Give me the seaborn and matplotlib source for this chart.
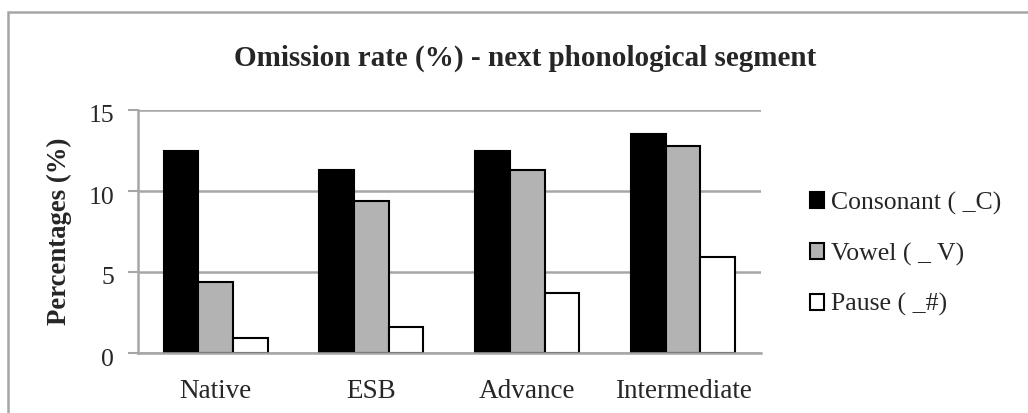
import matplotlib
matplotlib.use("Agg")
import matplotlib.pyplot as plt
import matplotlib.transforms as mtransforms
from matplotlib.patches import Rectangle
import pandas as pd
import seaborn as sns

groups = ["Native", "ESB", "Advance", "Intermediate"]
segments = ["Consonant ( _C)", "Vowel ( _ V)", "Pause ( _#)"]
consonant = [12.5, 11.3, 12.5, 13.5]
vowel = [4.4, 9.4, 11.3, 12.8]
pause = [0.9, 1.6, 3.7, 5.9]
yticks = [0, 5, 10, 15]

df = pd.DataFrame({
    "group": groups * 3,
    "segment": [s for s in segments for _ in groups],
    "value": consonant + vowel + pause,
})

sns.set_theme(style="white")
plt.rcParams["font.family"] = ["Liberation Serif", "DejaVu Serif"]

GRID = "#a6a6a6"
FS = 18.5

fig = plt.figure(figsize=(10.28, 4.13), dpi=100)
ax = fig.add_axes([137.7 / 1028, 1 - 353 / 413, (761 - 137.7) / 1028, (353 - 110) / 413])

sns.barplot(
    data=df, x="group", y="value", hue="segment", order=groups, hue_order=segments,
    palette=["#000000", "#b3b3b3", "#ffffff"], edgecolor="black", linewidth=1.5,
    width=0.667, saturation=1, ax=ax, legend=True,
)

ax.set_ylim(0, 15)
ax.set_xlim(-0.5, len(groups) - 0.5)
ax.set_yticks(yticks)
ax.set_yticklabels([str(t) for t in yticks], fontsize=FS)
ax.tick_params(axis="x", length=0, labelsize=19.5, pad=19)
ax.tick_params(axis="y", left=True, length=7, width=1.5, color=GRID, pad=10)
# nudge the value labels slightly below their gridlines
shift = mtransforms.ScaledTranslation(0, -4 / 100, fig.dpi_scale_trans)
for lab in ax.get_yticklabels():
    lab.set_transform(lab.get_transform() + shift)
ax.yaxis.grid(True, color=GRID, linewidth=1.8)
ax.set_axisbelow(True)
for side in ["top", "right"]:
    ax.spines[side].set_visible(False)
for side in ["left", "bottom"]:
    ax.spines[side].set_color(GRID)
    ax.spines[side].set_linewidth(1.8)

ax.set_xlabel("")
ax.set_ylabel("Percentages (%)", fontsize=19.3, fontweight="bold", labelpad=12)

handles, labels = ax.get_legend_handles_labels()
ax.legend(
    handles, labels, loc="center left", bbox_to_anchor=(810 / 1028, 1 - 254 / 413),
    bbox_transform=fig.transFigure, frameon=False, fontsize=FS,
    handlelength=0.55, handleheight=0.55, handletextpad=0.25,
    labelspacing=1.08, borderpad=0, borderaxespad=0,
)

fig.text(525 / 1028, 1 - 58 / 413, "Omission rate (%) - next phonological segment",
         ha="center", va="center", fontsize=21, fontweight="bold")

fig.patches.append(Rectangle((8 / 1028, -0.2), 1.2, 1.2 - 12 / 413,
                             transform=fig.transFigure, fill=False,
                             edgecolor=GRID, linewidth=1.8))

fig.savefig("out.png", dpi=100, facecolor="white")
